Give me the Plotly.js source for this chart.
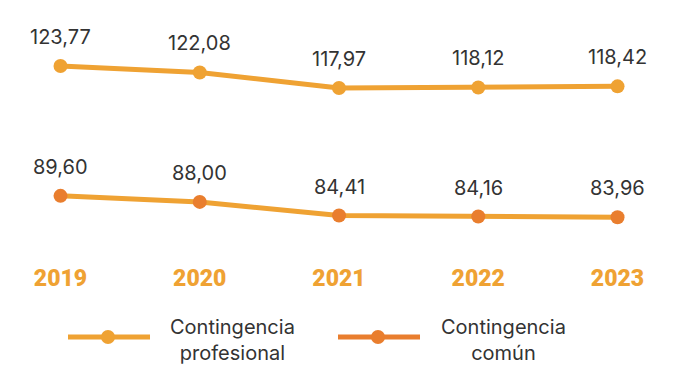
<!DOCTYPE html>
<html>
<head>
<meta charset="utf-8">
<script src="https://cdn.plot.ly/plotly-3.0.1.min.js"></script>
<style>html,body{margin:0;padding:0;background:#fff;}#chart{width:682px;height:388px;}</style>
</head>
<body>
<div id="chart"></div>
<script>
const years = ["2019", "2020", "2021", "2022", "2023"];
const profesional = [123.77, 122.08, 117.97, 118.12, 118.42];
const comun = [89.60, 88.00, 84.41, 84.16, 83.96];
const seriesNames = ["Contingencia<br>profesional", "Contingencia<br>común"];

const yellow = "#EFA233";
const orange = "#E97E2E";
const fmt = v => v.toFixed(2).replace(".", ",");

const traces = [
  {x: years, y: profesional, type: "scatter", mode: "lines+markers", name: seriesNames[0],
   line: {color: yellow, width: 5}, marker: {color: yellow, size: 14}, showlegend: false, hoverinfo: "none"},
  {x: years, y: comun, type: "scatter", mode: "lines", line: {color: yellow, width: 5},
   showlegend: false, hoverinfo: "none"},
  {x: years, y: comun, type: "scatter", mode: "markers", name: seriesNames[1],
   marker: {color: orange, size: 14}, showlegend: false, hoverinfo: "none"}
];

const labelFont = {family: "Inter, Roboto, sans-serif", size: 20, color: "#333333"};
const annotations = [];
years.forEach((yr, i) => {
  annotations.push({x: i, y: profesional[i], text: fmt(profesional[i]), showarrow: false, yshift: 29, font: labelFont});
  annotations.push({x: i, y: comun[i], text: fmt(comun[i]), showarrow: false, yshift: 29, font: labelFont});
});

// custom legend (pixel positions converted to paper coords of the plot area)
const W = 682, PH = 262;
const py = px => 1 - px / PH;
const legendItems = [
  {name: seriesNames[0], lineColor: yellow, x0: 68, x1: 150, cx: 108, tx: 233},
  {name: seriesNames[1], lineColor: orange, x0: 338, x1: 420, cx: 378, tx: 503}
];
const shapes = [];
legendItems.forEach(it => {
  shapes.push({type: "line", xref: "paper", yref: "paper", x0: it.x0 / W, x1: it.x1 / W,
    y0: py(337), y1: py(337), line: {color: it.lineColor, width: 5}});
  shapes.push({type: "circle", xref: "paper", yref: "paper", fillcolor: it.lineColor, line: {width: 0},
    x0: (it.cx - 7) / W, x1: (it.cx + 7) / W, y0: py(344), y1: py(330)});
  annotations.push({xref: "paper", yref: "paper", x: it.tx / W, y: py(340), text: it.name,
    showarrow: false, align: "center", xanchor: "center", yanchor: "middle",
    font: {family: "Inter, Roboto, sans-serif", size: 20, color: "#333333"}});
});

const layout = {
  width: 682, height: 388,
  margin: {l: 0, r: 0, t: 0, b: 126},
  paper_bgcolor: "#ffffff", plot_bgcolor: "#ffffff",
  showlegend: false,
  xaxis: {type: "category", range: [-0.4345, 4.463], showgrid: false, zeroline: false, showline: false,
    ticks: "", tickfont: {family: "Roboto, sans-serif", size: 23, color: yellow, weight: 900}, fixedrange: true},
  yaxis: {range: [72.19, 141.14], visible: false, fixedrange: true},
  shapes: shapes,
  annotations: annotations
};

Plotly.newPlot("chart", traces, layout, {displayModeBar: false, staticPlot: true});
</script>
</body>
</html>
